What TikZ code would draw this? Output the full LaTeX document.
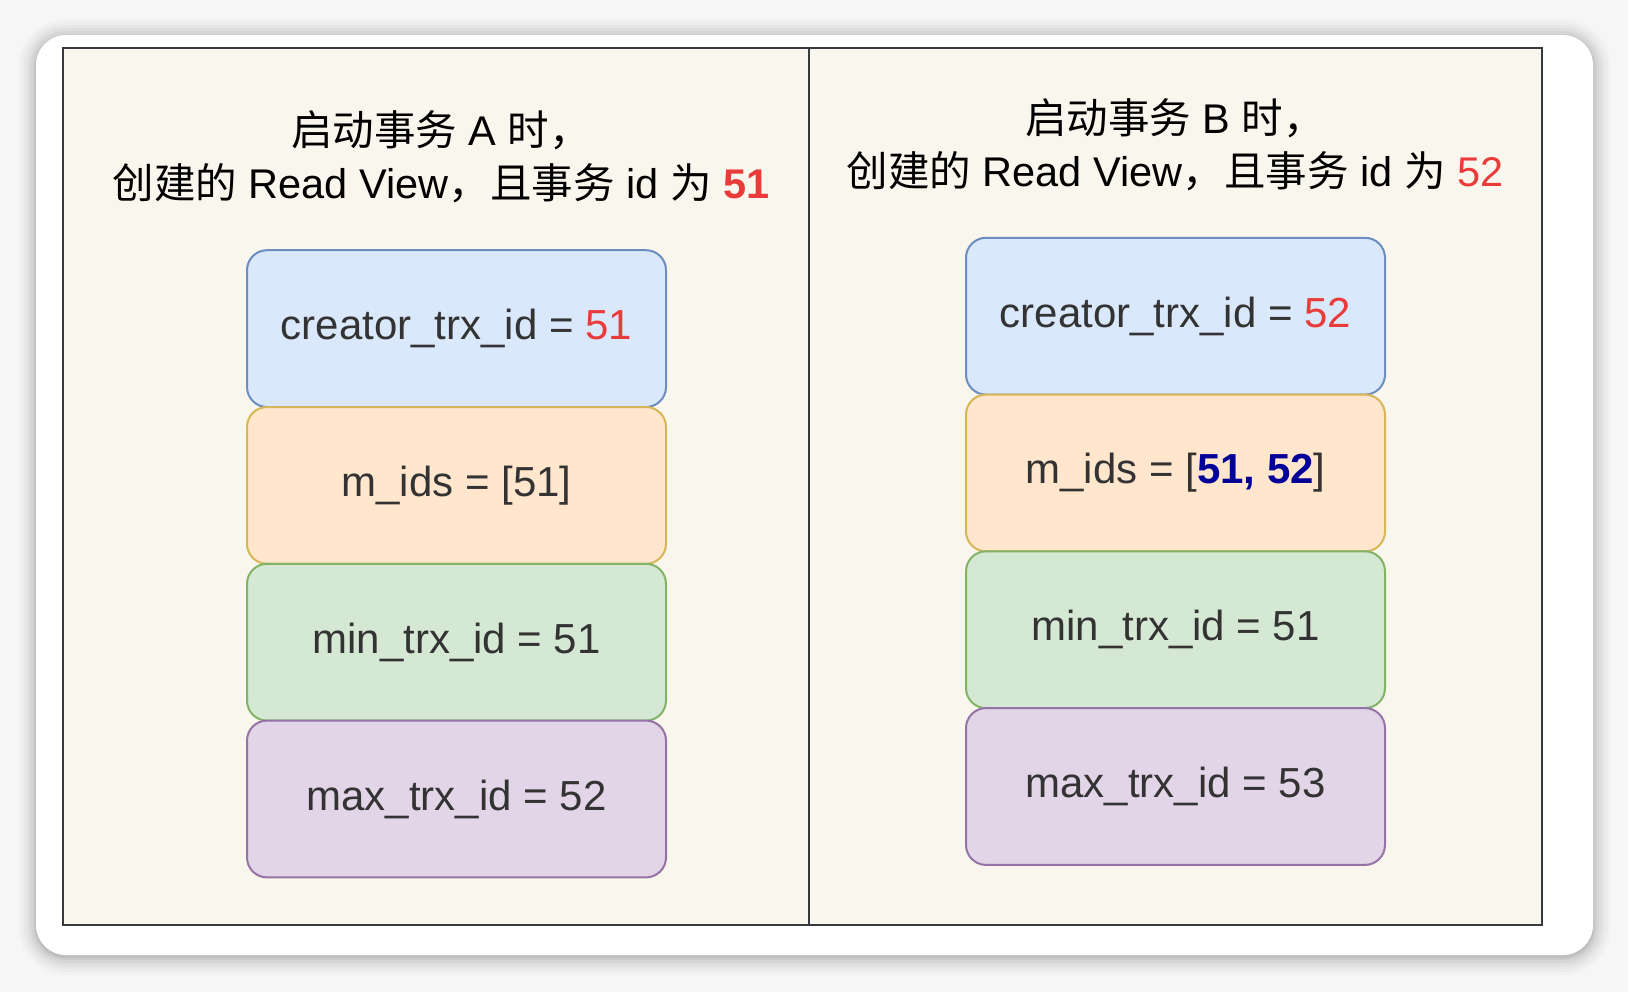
\documentclass[tikz,border=0pt]{standalone}
\usepackage{fontspec}
\setmainfont{Liberation Sans}
\newfontfamily\cjk{Noto Sans CJK SC}
\definecolor{outbg}{HTML}{F6F6F6}
\definecolor{panelbg}{HTML}{F9F7ED}
\definecolor{panelline}{HTML}{36393D}
\definecolor{bluefill}{HTML}{DAE8FC}
\definecolor{blueline}{HTML}{6C8EBF}
\definecolor{orangefill}{HTML}{FFE6CC}
\definecolor{orangeline}{HTML}{D6B656}
\definecolor{greenfill}{HTML}{D5E8D4}
\definecolor{greenline}{HTML}{82B366}
\definecolor{purplefill}{HTML}{E1D5E7}
\definecolor{purpleline}{HTML}{9673A6}
\definecolor{txt}{HTML}{333333}
\definecolor{redtxt}{HTML}{EA3B3B}
\definecolor{navytxt}{HTML}{000099}
\begin{document}
\begin{tikzpicture}[x=1pt,y=-1pt,
  fieldbox/.style={draw, rounded corners=20pt, line width=2pt, minimum width=419pt, minimum height=156.8pt, inner sep=0pt, text=txt, font=\fontsize{42pt}{50pt}\selectfont},
  bluebox/.style={fieldbox, fill=bluefill, draw=blueline},
  orangebox/.style={fieldbox, fill=orangefill, draw=orangeline},
  greenbox/.style={fieldbox, fill=greenfill, draw=greenline},
  purplebox/.style={fieldbox, fill=purplefill, draw=purpleline},
  titletext/.style={align=center, inner sep=0pt, text=black, font=\fontsize{41.5pt}{53pt}\selectfont},
  panel/.style={fill=panelbg, draw=panelline, line width=2.5pt}
]
\useasboundingbox (0,0) rectangle (1628,992);
\fill[outbg] (0,0) rectangle (1628,992);
% soft shadow of the card
\foreach \d/\op in {18/0.015,15/0.02,12/0.025,9/0.03,6/0.04,3/0.05,1/0.06}{
  \fill[black, opacity=\op, rounded corners={30pt+\d pt}] (36-\d,35-\d+2) rectangle (1593+\d,955+\d+2);
}
\fill[white, rounded corners=30pt] (36,35) rectangle (1593,955);
\coordinate (card) at (814.5,495);
% panels
\draw[panel] (63,48) rectangle (809,925);
\draw[panel] (809,48) rectangle (1542,925);
% titles
\node[titletext] (titleA) at (441,157) {{\cjk 启动事务} A {\cjk 时，}\\{\cjk 创建的} Read View{\cjk ，且事务} id {\cjk 为} \textcolor{redtxt}{\bfseries 51}};
\node[titletext] (titleB) at (1175,145) {{\cjk 启动事务} B {\cjk 时，}\\{\cjk 创建的} Read View{\cjk ，且事务} id {\cjk 为} \textcolor{redtxt}{52}};
% left column
\node[bluebox]   (a1) at (456.5,328.6) {creator\_trx\_id = \textcolor{redtxt}{51}};
\node[orangebox] (a2) at (456.5,485.4) {m\_ids = [51]};
\node[greenbox]  (a3) at (456.5,642.2) {min\_trx\_id = 51};
\node[purplebox] (a4) at (456.5,799.0) {max\_trx\_id = 52};
% right column
\node[bluebox]   (b1) at (1175.5,316.2) {creator\_trx\_id = \textcolor{redtxt}{52}};
\node[orangebox] (b2) at (1175.5,473.0) {m\_ids = [\textcolor{navytxt}{\bfseries 51, 52}]};
\node[greenbox]  (b3) at (1175.5,629.7) {min\_trx\_id = 51};
\node[purplebox] (b4) at (1175.5,786.5) {max\_trx\_id = 53};
\end{tikzpicture}
\end{document}
